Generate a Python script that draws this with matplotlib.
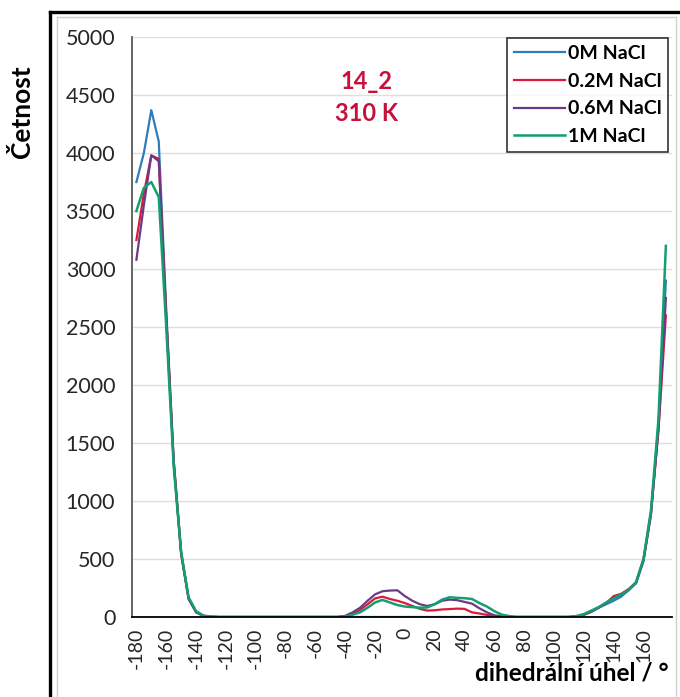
import numpy as np
import matplotlib.pyplot as plt
from matplotlib.lines import Line2D

# uhel (stupne), krok 5: -180 ... 175
uhel = np.arange(-180, 180, 5)

# cetnosti (useky: -180..-130, -125..-45, -40..70, 75..110, 115..175)
nacl_0 = ([3750, 4000, 4370, 4100, 2650, 1350, 560, 160, 45, 10, 2]
          + [0] * 17
          + [0] * 23
          + [0] * 8
          + [5, 18, 45, 80, 110, 140, 175, 230, 290, 480, 880, 1650, 2900])
nacl_02 = ([3250, 3650, 3980, 3950, 2600, 1350, 550, 160, 45, 10, 2]
           + [0] * 17
           + [5, 25, 60, 110, 160, 175, 155, 140, 120, 95, 70, 55, 58, 65, 68, 72, 70, 40, 30, 18, 8, 2, 0]
           + [0] * 8
           + [5, 20, 50, 85, 120, 180, 200, 240, 300, 500, 900, 1600, 2600])
nacl_06 = ([3080, 3550, 3980, 3930, 2580, 1330, 540, 155, 40, 8, 2]
           + [0] * 17
           + [10, 40, 80, 140, 195, 222, 228, 230, 180, 140, 110, 95, 110, 140, 150, 145, 130, 115, 75, 40, 15, 5, 0]
           + [0] * 8
           + [5, 20, 45, 80, 120, 165, 190, 235, 295, 490, 890, 1620, 2750])
nacl_1 = ([3500, 3700, 3750, 3620, 2500, 1300, 560, 170, 50, 12, 3]
          + [0] * 17
          + [5, 20, 40, 80, 125, 147, 125, 103, 90, 85, 80, 82, 110, 150, 170, 165, 162, 155, 120, 90, 50, 20, 8]
          + [0] * 8
          + [8, 25, 55, 85, 125, 160, 195, 230, 300, 500, 920, 1700, 3200])

plt.rcParams['font.family'] = ['Lato', 'DejaVu Sans']
plt.rcParams['axes.unicode_minus'] = False

fig = plt.figure(figsize=(6.8, 6.97), dpi=100)
ax = fig.add_axes([0.194, 0.1148, 0.794, 0.832])

ax.plot(uhel, nacl_0, "-", color="#2E7DBB", lw=1.6, label="0M NaCl")
ax.plot(uhel, nacl_02, "-", color="#D81B3C", lw=1.6, label="0.2M NaCl")
ax.plot(uhel, nacl_06, "-", color="#6A3A8A", lw=1.6, label="0.6M NaCl")
ax.plot(uhel, nacl_1, "-", color="#14A06E", lw=1.8, label="1M NaCl")

ax.set_xlim(-183, 179)
ax.set_ylim(0, 5000)
ax.set_yticks(range(0, 5001, 500))
ax.set_xticks(range(-180, 161, 20))
ax.tick_params(axis="y", length=0, pad=12, labelsize=15.5, labelcolor="#262626")
ax.tick_params(axis="x", length=0, pad=8, labelsize=14, labelcolor="#262626", rotation=90)
ax.grid(True, axis="y", color="#dedede", lw=1)
ax.set_axisbelow(True)
for s in ["top", "right"]:
    ax.spines[s].set_visible(False)
ax.spines["left"].set_color("#595959")
ax.spines["left"].set_linewidth(1.3)
ax.spines["bottom"].set_color("black")
ax.spines["bottom"].set_linewidth(1.3)

# nazev uvnitr grafu
ax.text(0.435, 0.924, "14_2", transform=ax.transAxes, color="#C8103C",
        fontsize=17, fontweight="bold", ha="center", va="center")
ax.text(0.435, 0.869, "310 K", transform=ax.transAxes, color="#C8103C",
        fontsize=17, fontweight="bold", ha="center", va="center")

leg = ax.legend(loc="upper right", bbox_to_anchor=(0.993, 0.998),
                prop={"weight": "bold", "size": 14}, frameon=True, fancybox=False,
                handlelength=2.6, handletextpad=0.15, borderpad=0.35, labelspacing=0.55,
                borderaxespad=0)
leg.get_frame().set_edgecolor("black")
leg.get_frame().set_linewidth(1.2)

fig.text(0.032, 0.84, "Četnost", rotation=90, fontsize=19, fontweight="bold",
         ha="center", va="center")
fig.text(0.983, 0.034, "dihedrální úhel / °", fontsize=17.5, fontweight="bold",
         ha="right", va="center")

# ramecek
fig.add_artist(Line2D([0.0735, 0.0735], [0, 0.983], color="black", lw=2.4))
fig.add_artist(Line2D([0.0735, 1.0], [0.983, 0.983], color="black", lw=2.4))
fig.add_artist(Line2D([0.084, 0.084], [0, 0.975], color="#d0d0d0", lw=1))
fig.add_artist(Line2D([0.084, 0.994], [0.975, 0.975], color="#d0d0d0", lw=1))
fig.add_artist(Line2D([0.994, 0.994], [0, 0.975], color="#d0d0d0", lw=1))

plt.savefig("out.png", dpi=100)
